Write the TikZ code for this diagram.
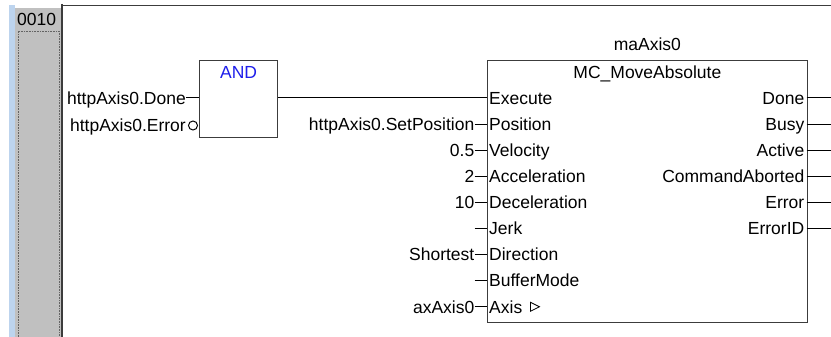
\documentclass[tikz,border=0pt]{standalone}
\usepackage{fontspec}
\setmainfont{Liberation Sans}
\usetikzlibrary{positioning,calc}
\definecolor{rail}{RGB}{192,192,192}
\definecolor{railblue}{RGB}{189,212,238}
\definecolor{frame}{RGB}{60,60,60}
\definecolor{andblue}{RGB}{30,30,235}
\begin{document}
\begin{tikzpicture}[x=1pt,y=-1pt,font=\fontsize{17.5}{20}\selectfont,
 fb/.style={draw=frame,line width=1.3pt,anchor=north west,inner sep=0},
 t/.style={inner sep=0,text height=12.5pt,text depth=0pt},
 nm/.style={t,inner xsep=2pt},
 wr/.style={line width=1pt}]
\useasboundingbox[fill=white] (0,0) rectangle (831,337);
% network rail
\fill[railblue] (9,5) rectangle (15,337);
\fill[rail] (15,8) rectangle (61,337);
\draw[densely dotted,frame!80,line width=0.6pt] (18,337) -- (18,31) -- (59,31) -- (59,337);
\node[t,anchor=west] (nr) at (17,19) {0010};
\draw[frame,line width=2pt] (61.5,4) -- (61.5,337);
\draw[frame,line width=1pt] (61.5,6) -- (831,6);
\coordinate (edge) at (831,0);
% AND block
\node[fb,minimum width=78pt,minimum height=77pt] (andb) at (199,60) {};
\node[t,text=andblue,below=6pt of andb.north] (andt) {AND};
\node[t,anchor=east] (done) at (186,98) {httpAxis0.Done};
\node[t,anchor=east] (err) at (186,125.5) {httpAxis0.Error};
\node[draw,circle,wr,inner sep=0,minimum size=9pt,anchor=east,xshift=-1pt] (neg) at (andb.west |- err) {};
\draw[wr] (done.east) -- (done.east -| andb.west);
% MC_MoveAbsolute block
\node[fb,minimum width=319.5pt,minimum height=261.5pt] (mc) at (487,60) {};
\node[t,below=6pt of mc.north] (mct) {MC\_MoveAbsolute};
\node[t,above=9pt of mc.north] (mci) {maAxis0};
\node[nm,anchor=west] (p1) at (487,98) {Execute};
\node[nm,anchor=west] (p2) at (487,124.1) {Position};
\node[nm,anchor=west] (p3) at (487,150.2) {Velocity};
\node[nm,anchor=west] (p4) at (487,176.3) {Acceleration};
\node[nm,anchor=west] (p5) at (487,202.4) {Deceleration};
\node[nm,anchor=west] (p6) at (487,228.5) {Jerk};
\node[nm,anchor=west] (p7) at (487,254.6) {Direction};
\node[nm,anchor=west] (p8) at (487,280.7) {BufferMode};
\node[nm,anchor=west] (p9) at (487,306.8) {Axis};
\draw[line width=0.8pt] ($(p9.east)+(6,-4.5)$) -- ++(9,4.5) -- ++(-9,4.5) -- cycle;
\node[t,anchor=east] (v2) at (p2.west) [xshift=-12.5pt] {httpAxis0.SetPosition};
\node[t,anchor=east] (v3) at (p3.west) [xshift=-12.5pt] {0.5};
\node[t,anchor=east] (v4) at (p4.west) [xshift=-12.5pt] {2};
\node[t,anchor=east] (v5) at (p5.west) [xshift=-12.5pt] {10};
\node[t,anchor=east] (v6) at (p6.west) [xshift=-12.5pt] {};
\node[t,anchor=east] (v7) at (p7.west) [xshift=-12.5pt] {Shortest};
\node[t,anchor=east] (v8) at (p8.west) [xshift=-12.5pt] {};
\node[t,anchor=east] (v9) at (p9.west) [xshift=-12.5pt] {axAxis0};
\node[nm,anchor=east] (o1) at (806.5,98) {Done};
\node[nm,anchor=east] (o2) at (806.5,124.1) {Busy};
\node[nm,anchor=east] (o3) at (806.5,150.2) {Active};
\node[nm,anchor=east] (o4) at (806.5,176.3) {CommandAborted};
\node[nm,anchor=east] (o5) at (806.5,202.4) {Error};
\node[nm,anchor=east] (o6) at (806.5,228.5) {ErrorID};
% wires
\draw[wr] (andb.east |- done) -- (p1.west);
\draw[wr] (v2.east) -- (p2.west); \draw[wr] (v3.east) -- (p3.west); \draw[wr] (v4.east) -- (p4.west);
\draw[wr] (v5.east) -- (p5.west); \draw[wr] (v6.east) -- (p6.west); \draw[wr] (v7.east) -- (p7.west);
\draw[wr] (v8.east) -- (p8.west); \draw[wr] (v9.east) -- (p9.west);
\draw[wr] (o1.east) -- (o1.east -| edge); \draw[wr] (o2.east) -- (o2.east -| edge); \draw[wr] (o3.east) -- (o3.east -| edge);
\draw[wr] (o4.east) -- (o4.east -| edge); \draw[wr] (o5.east) -- (o5.east -| edge); \draw[wr] (o6.east) -- (o6.east -| edge);
\end{tikzpicture}
\end{document}
